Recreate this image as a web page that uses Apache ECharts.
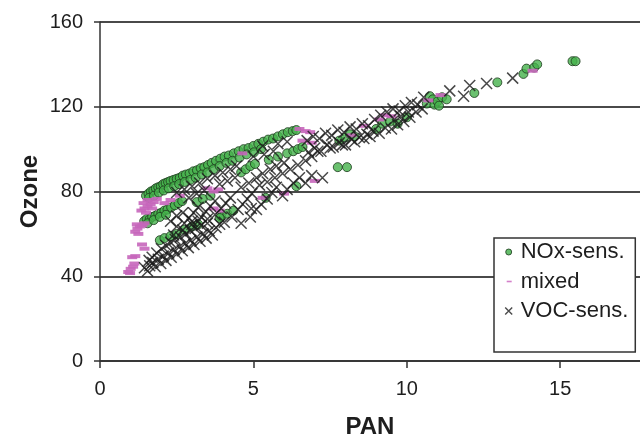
<!DOCTYPE html>
<html>
<head>
<meta charset="utf-8">
<script src="https://cdn.jsdelivr.net/npm/echarts@6/dist/echarts.min.js"></script>
<style>
html, body { margin: 0; padding: 0; background: #fff; }
#chart { width: 640px; height: 440px; }
</style>
</head>
<body>
<div id="chart"></div>
<script>
// Ozone vs PAN, points split by chemical regime
const seriesNames = ['NOx-sens.', 'mixed', 'VOC-sens.'];
const xTicks = [0, 5, 10, 15];
const yTicks = [0, 40, 80, 120, 160];

// NOx-sensitive points [PAN, Ozone]
const noxSens = [
  [1.50,78],[1.58,79],[1.66,80],[1.74,80.5],[1.82,81.5],[1.90,82],[1.98,82.5],[2.06,83.5],[2.14,84],[2.22,84.5],
  [2.30,85],[2.40,85.5],[2.50,86],[2.60,86.5],[2.70,87.5],[2.80,88],[2.92,88.5],[3.04,89.5],[3.16,90],[3.28,91],
  [3.40,91.5],[3.52,92.5],[3.64,93.5],[3.78,94.5],[3.92,95.5],[4.06,96.5],[4.20,97],[4.36,98],[4.52,99],[4.68,100],
  [4.84,100.5],[5.00,101.5],[5.16,102.5],[5.32,103.5],[5.48,104.5],[5.64,105],[5.80,106],[5.96,107],[6.12,108],[6.28,108.5],[6.40,109],
  [1.60,77],[1.76,78],[1.92,79.5],[2.08,80.5],[2.24,81.5],[2.42,82.5],[2.58,83.5],[2.76,84.5],[2.95,85.5],[3.12,86.5],
  [3.32,88],[3.50,89],[3.70,90.5],[3.90,92],[4.12,93.5],[4.32,94.5],[4.55,96],[4.78,97.5],[5.02,98.5],[5.25,100],
  [1.44,66],[1.52,67],[1.62,67],[1.70,68],[1.80,68.5],[1.90,69.5],[2.00,70],[2.10,71],[2.20,71.5],[2.32,72.5],
  [2.44,73.5],[2.56,74.5],[2.68,75.5],[1.55,65],[1.75,66.5],[1.95,68],[2.15,69],
  [3.15,75],[3.35,76.5],[3.60,78],[3.95,68],[4.15,69.5],[4.35,71],
  [1.95,57],[2.10,58],[2.30,59],[2.50,60],[2.75,62],[3.00,63.5],[3.20,64.5],[3.90,67.5],
  [4.60,89],[4.75,90.5],[4.90,92],[5.05,93],[5.50,95],[5.80,96.5],[6.10,98],[6.30,99],[6.45,100],[6.60,101],
  [5.40,77],[6.40,82.5],[7.75,91.5],[8.05,91.5],
  [7.80,104],[8.00,105.5],[8.15,107],[8.30,106],[9.00,109.5],[9.20,112],[9.45,113],[9.70,112],[10.00,115],
  [10.65,121.5],[10.75,125],[10.85,123.5],[10.90,121],[11.00,122.5],[11.05,120.5],[11.15,124.5],[11.30,123.5],
  [12.20,126.5],[12.95,131.5],[13.80,135.5],[13.90,138],[14.15,138.5],[14.25,140],[15.40,141.5],[15.50,141.5]
];

// mixed-regime points [PAN, Ozone]
const mixed = [
  [0.92,42],[1.00,43.5],[1.08,44.5],[0.98,41.5],[1.12,46],[1.05,49],[1.15,49.5],[1.37,55],[1.45,53],
  [1.15,61],[1.22,62.5],[1.30,63.5],[1.38,64],[1.25,60],[1.45,65],[1.20,64.5],
  [1.35,71],[1.45,72],[1.55,73],[1.65,74],[1.75,75],[1.42,74.5],[1.55,76],[1.85,76.5],[1.50,70],[1.70,72],
  [2.10,74.5],[2.30,76],[2.60,78],[3.50,81.5],[3.70,80],[3.85,81],[3.70,72],[3.90,71],
  [4.64,98],[6.50,109.5],[6.70,108.5],[6.85,108],[6.60,104],[6.90,103],
  [5.30,77],[6.00,79],[7.00,85],
  [8.20,106.5],[8.60,111],[9.10,114],[9.30,116],[9.50,115.5],[10.70,123],[11.10,125.5],[14.10,137]
];

// VOC-sensitive points [PAN, Ozone]
const vocSens = [
  [1.45,44],[1.55,42.5],[1.62,45],[1.72,46.5],[1.80,44.5],[1.90,48],[1.98,46],[2.06,49.5],[2.15,47.5],[2.24,51],
  [2.32,49],[2.42,52.5],[2.50,50.5],[2.60,54],[2.68,52],[2.78,55.5],[2.88,53.5],[2.96,57],[3.06,55],[3.16,58.5],
  [3.26,56.5],[3.36,60],[3.46,58],[3.56,61.5],[3.66,59.5],[3.78,63],[3.90,64.5],
  [1.70,49],[1.85,51],[2.00,53],[2.15,54.5],[2.30,56],[2.45,57.5],[2.62,58.5],[2.80,60],[2.95,61.5],[3.10,62.5],
  [3.30,64],[3.50,65],[1.60,47.5],[2.40,59.5],[2.70,61.8],[3.00,64.5],[3.20,66],
  [2.30,66],[2.50,68.5],[2.70,70],[2.50,63.5],[2.75,65],[2.90,67.5],[3.05,70],[3.20,72.5],[3.00,66],[3.30,68],
  [3.45,70.5],[3.60,73],[3.75,75.5],[3.50,67],[3.75,69],[3.95,72],[4.10,74.5],[4.25,77],[4.05,65.5],[4.30,68],
  [4.50,71.5],[4.65,74],[4.80,76.5],[4.95,79],[4.60,65],[4.90,68],[5.10,71.5],[5.25,74],[5.45,76.5],[5.60,79.5],
  [5.75,82],[5.95,78],[6.10,81],[6.30,84],[6.50,86.5],[6.70,84],[6.90,87.5],[7.25,86.5],[4.93,72],
  [2.50,79.5],[2.75,81],[3.00,82.5],[3.25,84],[3.50,86],[3.75,87.5],[4.00,89],[4.25,90.5],[4.45,92],[2.90,77],
  [3.15,79],[3.40,80.5],[3.90,83.5],[4.15,85],[4.40,86.5],[4.60,82],[4.85,84],[5.10,86.5],[5.30,88.5],[5.55,90.5],
  [5.75,92],[6.00,93.5],[5.20,83],[5.45,84.5],[5.70,86.5],[5.95,88.5],[6.20,90.5],[6.45,92.5],[6.70,94.5],[6.90,96.5],
  [5.30,101.5],[5.80,102.5],[6.10,103.5],[5.00,96.5],[5.35,97.5],[5.65,99],
  [6.75,104],[6.95,106],[7.15,105],[7.35,107.5],[7.55,106.5],[7.75,109],[7.95,108],[8.15,110.5],[8.35,109.5],[8.55,112],
  [8.75,111],[8.95,114],[9.15,116],[9.35,117.5],[9.55,119],[9.75,118],[9.95,120.5],[10.15,122],[10.35,121],[10.55,124.5],
  [11.40,127.5],[11.85,125],[12.05,130],[12.60,131],[13.45,133.5],
  [6.80,98.5],[7.00,100.5],[7.20,99],[7.40,102],[7.60,101],[7.80,103],[8.00,102],[8.20,104.5],[8.45,105.5],[8.70,107],
  [8.90,108.5],[9.10,107.5],[9.30,110],[9.50,109.5],[9.70,111.5],[9.90,113],[10.10,115],[10.30,117.5],[10.50,119],
  [7.10,99],[7.50,100.5],[7.90,102],[8.30,103.5],[8.60,105],[8.80,106],[9.60,114],[9.80,115.5],[10.05,117.5]
];

const FONT = '"Liberation Sans", Arial, sans-serif';
const INK = '#1e1e1e';

const crossPath = 'path://M0,0L10,10M10,0L0,10';

const chart = echarts.init(document.getElementById('chart'), null, { renderer: 'canvas' });

chart.setOption({
  animation: false,
  backgroundColor: '#ffffff',
  grid: { left: 100, right: 0, top: 22, bottom: 79, outerBoundsMode: 'none' },
  xAxis: {
    type: 'value',
    min: 0,
    max: 17.6,
    interval: 5,
    name: 'PAN',
    nameLocation: 'middle',
    nameGap: 54,
    nameMoveOverlap: false,
    nameTextStyle: { fontFamily: FONT, fontSize: 24, fontWeight: 'bold', color: INK },
    axisLine: { show: true, lineStyle: { color: '#333', width: 1.5 } },
    axisTick: { show: true, length: 7, customValues: xTicks, lineStyle: { color: '#333', width: 1.5 } },
    axisLabel: { margin: 18, customValues: xTicks, fontFamily: FONT, fontSize: 20, color: INK },
    splitLine: { show: false }
  },
  yAxis: {
    type: 'value',
    min: 0,
    max: 160,
    interval: 40,
    name: 'Ozone',
    nameLocation: 'middle',
    nameGap: 58,
    nameMoveOverlap: false,
    nameTextStyle: { fontFamily: FONT, fontSize: 24, fontWeight: 'bold', color: INK },
    axisLine: { show: true, lineStyle: { color: '#333', width: 1.5 } },
    axisTick: { show: true, length: 6, customValues: yTicks, lineStyle: { color: '#333', width: 1.5 } },
    axisLabel: { margin: 17, customValues: yTicks, fontFamily: FONT, fontSize: 20, color: INK },
    splitLine: { show: true, lineStyle: { color: '#4a4a4a', width: 2 } }
  },
  legend: {
    orient: 'vertical',
    left: 494,
    top: 238,
    padding: [2, 7, 29, 7],
    itemGap: 5.5,
    itemWidth: 14,
    itemHeight: 14,
    backgroundColor: '#ffffff',
    borderColor: '#333',
    borderWidth: 1.5,
    borderRadius: 0,
    textStyle: { fontFamily: FONT, fontSize: 22, color: INK, lineHeight: 24 },
    data: [
      { name: seriesNames[0], icon: 'path://M0,0M14,14M4,7A3,3,0,1,0,10,7A3,3,0,1,0,4,7Z',
        itemStyle: { color: '#3fae46', borderColor: '#1d3a1d', borderWidth: 1 } },
      { name: seriesNames[1], icon: 'path://M0,0M14,14M5,6.2H10V7.8H5Z',
        itemStyle: { color: '#cf72c4', borderWidth: 0 } },
      { name: seriesNames[2], icon: 'path://M0,0M14,14M3.5,3.5L10.5,10.5M10.5,3.5L3.5,10.5',
        itemStyle: { color: 'transparent', borderColor: INK, borderWidth: 1.4 } }
    ]
  },
  series: [
    {
      name: seriesNames[0],
      type: 'scatter',
      data: noxSens,
      symbol: 'circle',
      symbolSize: 9,
      itemStyle: { color: '#45b24b', borderColor: '#1d3a1d', borderWidth: 1 },
      z: 2
    },
    {
      name: seriesNames[1],
      type: 'scatter',
      data: mixed,
      symbol: 'rect',
      symbolSize: [10, 4],
      itemStyle: { color: '#c766bb', opacity: 0.9 },
      z: 3
    },
    {
      name: seriesNames[2],
      type: 'scatter',
      data: vocSens,
      symbol: crossPath,
      symbolSize: 11,
      itemStyle: { color: 'transparent', borderColor: '#1a1a1a', borderWidth: 1.5 },
      z: 4
    }
  ]
});
</script>
</body>
</html>
